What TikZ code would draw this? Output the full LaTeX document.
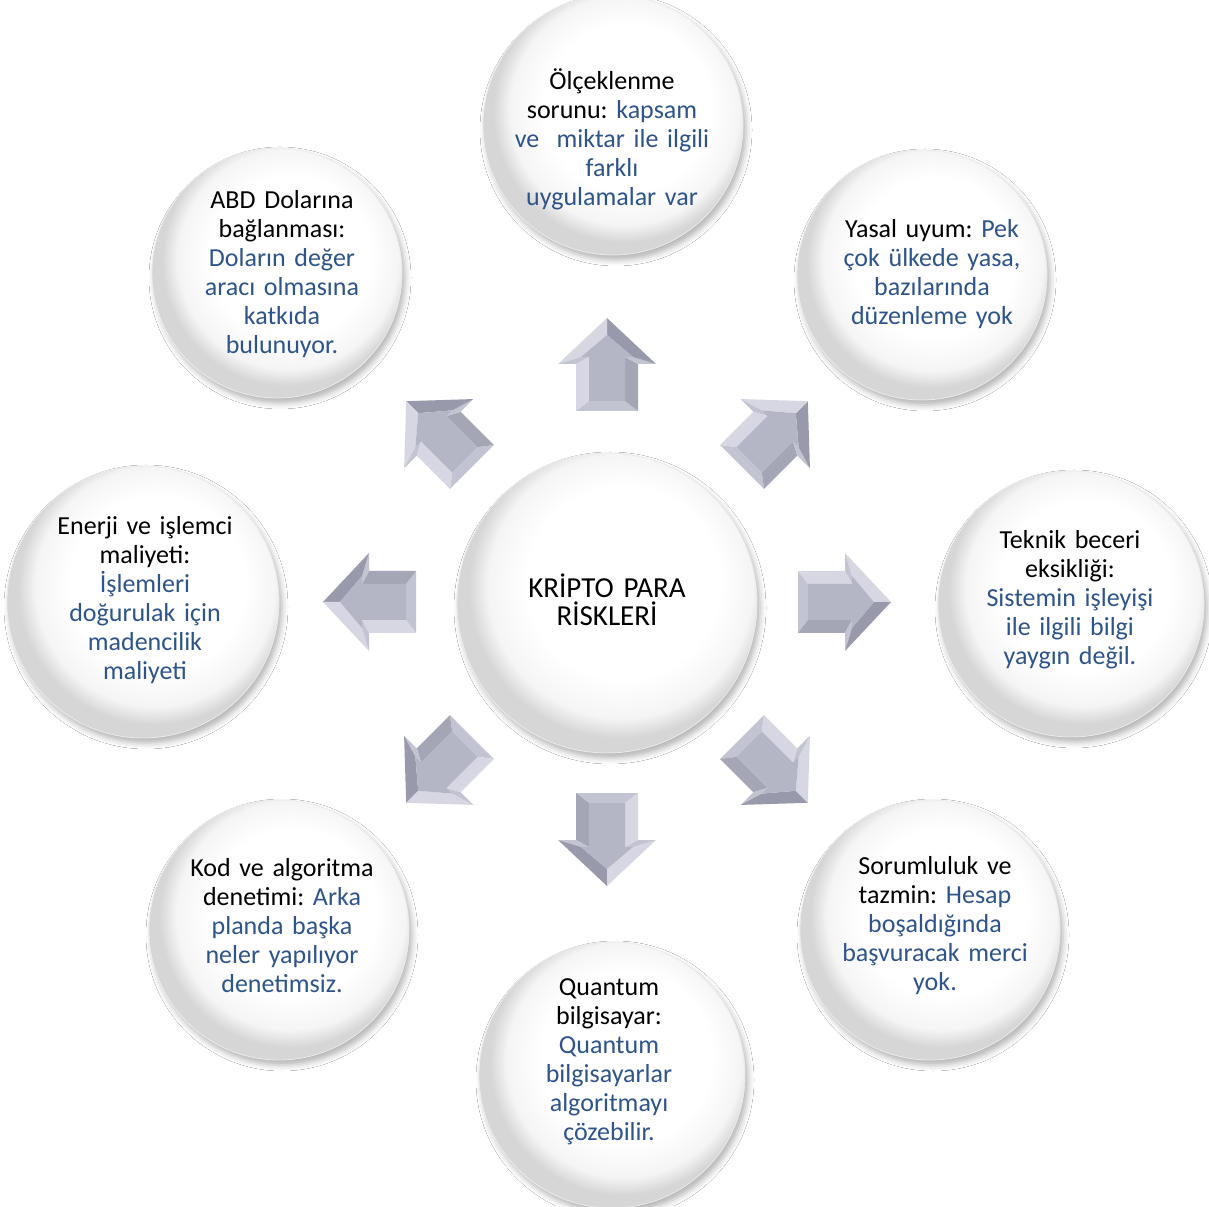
\documentclass[tikz,border=0pt]{standalone}
\usepackage{fontspec}
\setmainfont{Carlito}
\usepackage{tikz}
\usetikzlibrary{positioning,shadows,shadows.blur}
\definecolor{riskblue}{RGB}{46,84,140}
\definecolor{arface}{RGB}{180,182,198}
\definecolor{arlight}{RGB}{214,215,226}
\definecolor{armid}{RGB}{194,196,210}
\definecolor{ardark}{RGB}{164,166,182}
\definecolor{ardeep}{RGB}{152,154,172}
\pgfdeclareradialshading{bubbleshade}{\pgfpoint{4bp}{5bp}}{%
  color(0bp)=(white); color(16bp)=(white); color(22bp)=(black!4);
  color(25bp)=(black!16); color(50bp)=(black!16)}
\newcommand{\riskdesc}[1]{{\color{riskblue}#1}}
\frenchspacing

\begin{document}
\begin{tikzpicture}[x=0.5pt, y=0.5pt,
    bubble/.style={circle, shade, shading=bubbleshade, draw=black!8, inner sep=0pt,
      blur shadow={shadow xshift=1.5pt, shadow yshift=-2.5pt, shadow blur radius=3pt, shadow opacity=30}},
    risktext/.style={font=\fontsize{13}{14.5}\selectfont, text width=118pt, align=center, inner sep=0pt},
    bevelarrow/.pic={
      % bevelled block arrow, tail at 191, tip at 284
      \fill[armid]  (191,31) -- (191,-31) -- (201,-18) -- (201,18) -- cycle;
      \fill[ardark] (191,-31) -- (238,-31) -- (245,-18) -- (201,-18) -- cycle;
      \fill[armid]  (238,-31) -- (238,-49) -- (245,-26) -- (245,-18) -- cycle;
      \fill[ardeep] (238,-49) -- (284,0) -- (267,0) -- (245,-26) -- cycle;
      \fill[arlight] (284,0) -- (238,49) -- (245,26) -- (267,0) -- cycle;
      \fill[armid]  (238,49) -- (238,31) -- (245,18) -- (245,26) -- cycle;
      \fill[arlight] (238,31) -- (191,31) -- (201,18) -- (245,18) -- cycle;
      \fill[arface] (201,-18) -- (245,-18) -- (245,-26) -- (267,0) -- (245,26) -- (245,18) -- (201,18) -- cycle;
    }]
  \useasboundingbox (0,0) rectangle (1209,1206);
  \clip (0,0) rectangle (1209,1206);
  \fill[white] (0,0) rectangle (1209,1206);

  % arrows round the hub
  \coordinate (hub) at (607,604);
  \foreach \ang in {0,45,...,315}
    \pic[rotate=\ang] at (hub) {bevelarrow};

  % centre
  \node[bubble, minimum size=150pt] (risk) at (607,603) {};
  \node[risktext, font=\fontsize{14.5}{14}\selectfont] (risktxt) at (607,606) {KRİPTO PARA\\RİSKLERİ};

  % outer circles
  \node[bubble, minimum size=130pt] (scale) at (613,1081) {};
  \node[bubble, minimum size=125pt] (legal) at (922,931) {};
  \node[bubble, minimum size=133pt] (skill) at (1071,602) {};
  \node[bubble, minimum size=130pt] (liable) at (930,276) {};
  \node[bubble, minimum size=133pt] (quantum) at (612,131) {};
  \node[bubble, minimum size=130pt] (audit) at (279,276) {};
  \node[bubble, minimum size=136pt] (energy) at (143,604) {};
  \node[bubble, minimum size=125pt] (dollar) at (277,933) {};

  % texts
  \node[risktext] (scaletxt) at (612,1067)
    {Ölçeklenme\\sorunu: \riskdesc{kapsam\\ve\ \ miktar ile ilgili\\farklı\\uygulamalar var}};
  \node[risktext] (legaltxt) at (932,932)
    {Yasal uyum: \riskdesc{Pek\\çok ülkede yasa,\\bazılarında\\düzenleme yok}};
  \node[risktext] (skilltxt) at (1070,606)
    {Teknik beceri\\eksikliği:\\\riskdesc{Sistemin işleyişi\\ile ilgili bilgi\\yaygın değil.}};
  \node[risktext] (liabletxt) at (935,280)
    {Sorumluluk ve\\tazmin: \riskdesc{Hesap\\boşaldığında\\başvuracak merci\\yok.}};
  \node[risktext] (quantumtxt) at (609,144)
    {Quantum\\bilgisayar:\\\riskdesc{Quantum\\bilgisayarlar\\algoritmayı\\çözebilir.}};
  \node[risktext] (audittxt) at (282,280)
    {Kod ve algoritma\\denetimi: \riskdesc{Arka\\planda başka\\neler yapılıyor\\denetimsiz.}};
  \node[risktext] (energytxt) at (145,606)
    {Enerji ve işlemci\\maliyeti:\\\riskdesc{İşlemleri\\doğurulak için\\madencilik\\maliyeti}};
  \node[risktext] (dollartxt) at (282,932)
    {ABD Dolarına\\bağlanması:\\\riskdesc{Doların değer\\aracı olmasına\\katkıda\\bulunuyor.}};
\end{tikzpicture}
\end{document}
